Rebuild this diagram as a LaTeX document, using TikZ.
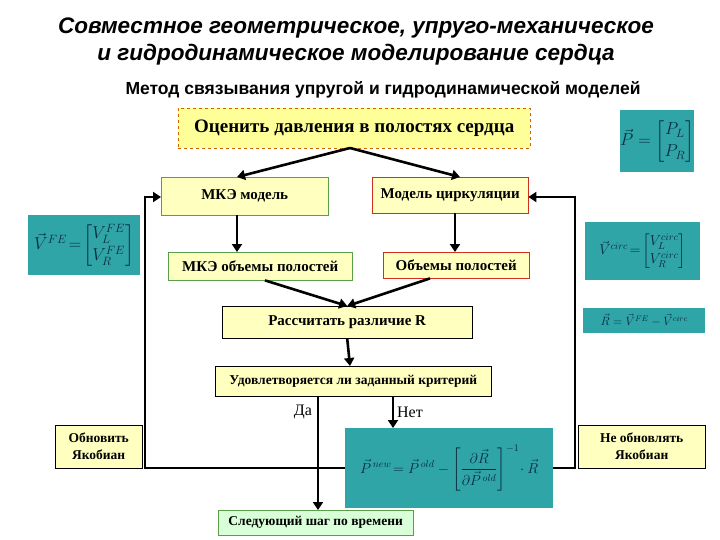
\documentclass[tikz,border=0pt]{standalone}
\usepackage{amsmath}
\usepackage{fontspec}
\setmainfont{Liberation Serif}
\newfontfamily\ttl{Liberation Sans}
\usetikzlibrary{arrows.meta}
\definecolor{byel}{HTML}{FFFFC0}
\definecolor{teal2}{HTML}{2FA5A8}
\definecolor{gbord}{HTML}{5A9E4A}
\definecolor{rbord}{HTML}{D03020}
\definecolor{fdark}{HTML}{0A2A40}
\begin{document}
\begin{tikzpicture}[x=1pt,y=-1pt,
  box/.style={draw,fill=byel,font=\bfseries\fontsize{15}{17}\selectfont,inner sep=0pt,anchor=north west},
  sm/.style={font=\bfseries\fontsize{13.5}{17}\selectfont},
  arr/.style={line width=2.6pt,-{Triangle[length=8pt,width=10pt]}},
  fbox/.style={fill=teal2,anchor=north west,inner sep=0pt,text=fdark}]
\useasboundingbox (0,0) rectangle (720,540);
\node[font=\ttl\bfseries\itshape\fontsize{22.5}{27}\selectfont,align=center] (t) at (356,41) {Совместное геометрическое, упруго-механическое\\и гидродинамическое моделирование сердца};
\node[font=\ttl\bfseries\fontsize{17.5}{20}\selectfont] (st) at (383,90) {Метод связывания упругой и гидродинамической моделей};
\node[box,draw=orange!80!black,dashed,fill=byel!80!yellow,minimum width=352pt,minimum height=40pt,font=\bfseries\fontsize{19}{21}\selectfont] (b1) at (178,108) {Оценить давления в полостях сердца};
\node[box,draw=gbord,minimum width=167pt,minimum height=38pt] (mke) at (161,177) {МКЭ модель};
\node[box,draw=rbord,minimum width=156pt,minimum height=36pt] (circ) at (372,177) {Модель циркуляции};
\node[box,draw=gbord,minimum width=184pt,minimum height=28pt] (mkev) at (168,252) {МКЭ объемы полостей};
\node[box,draw=rbord,minimum width=146pt,minimum height=26pt] (vol) at (383,252) {Объемы полостей};
\node[box,minimum width=250pt,minimum height=32pt] (calc) at (222,306) {Рассчитать различие R};
\node[box,sm,minimum width=276pt,minimum height=30pt] (crit) at (215,366) {Удовлетворяется ли заданный критерий};
\node[fbox,minimum width=208pt,minimum height=80pt,font=\Large] (f) at (345,428) {$\displaystyle \vec P^{\,new}\!=\vec P^{\,old}-\left[\frac{\partial\vec R}{\partial\vec P^{\,old}}\right]^{-1}\!\cdot\vec R$};
\node[box,sm,fill=green!15,draw=gbord,minimum width=195pt,minimum height=25pt] (next) at (218,510) {Следующий шаг по времени};
\node[box,sm,minimum width=87pt,minimum height=43pt,align=center] (upd) at (55,425) {Обновить\\Якобиан};
\node[box,sm,minimum width=127pt,minimum height=43pt,align=center] (nupd) at (578,425) {Не обновлять\\Якобиан};
\node[fbox,minimum width=112pt,minimum height=60pt] (fl) at (28,215) {\LARGE$\vec V^{FE}\!=\!\begin{bmatrix}V_L^{FE}\\ V_R^{FE}\end{bmatrix}$};
\node[fbox,minimum width=115pt,minimum height=58pt] (fr) at (585,222) {\Large$\vec V^{circ}\!=\!\begin{bmatrix}V_L^{circ}\\ V_R^{circ}\end{bmatrix}$};
\node[fbox,minimum width=72pt,minimum height=62pt] (fp) at (620,110) {\LARGE$\vec P=\begin{bmatrix}P_L\\ P_R\end{bmatrix}$};
\node[fbox,minimum width=122pt,minimum height=25pt] (fd) at (583,308) {\large$\vec R=\vec V^{FE}-\vec V^{circ}$};
\node[font=\fontsize{16}{18}\selectfont] (da) at (303,412) {Да};
\node[font=\fontsize{16}{18}\selectfont] (net) at (410,412) {Нет};
\draw[arr] (350,148) -- (mke.north-|237,0);
\draw[arr] (350,148) -- (circ.north-|460,0);
\draw[arr] (mke.south-|237,0) -- (mkev.north-|237,0);
\draw[arr] (circ.south-|455,0) -- (vol.north-|455,0);
\draw[arr] (mkev.south-|265,0) -- (calc.north);
\draw[arr] (vol.south-|430,0) -- (calc.north);
\draw[arr] (calc.south) -- (crit.north-|350,0);
\draw[arr] (crit.south-|318,0) -- (next.north-|318,0);
\draw[arr] (crit.south-|393,0) -- (f.north-|393,0);
\draw[arr] (f.west|-0,468) -- (145,468) -- (145,197) -- (mke.west|-0,197);
\draw[arr] (f.east|-0,468) -- (575,468) -- (575,197) -- (circ.east|-0,197);
\end{tikzpicture}
\end{document}
